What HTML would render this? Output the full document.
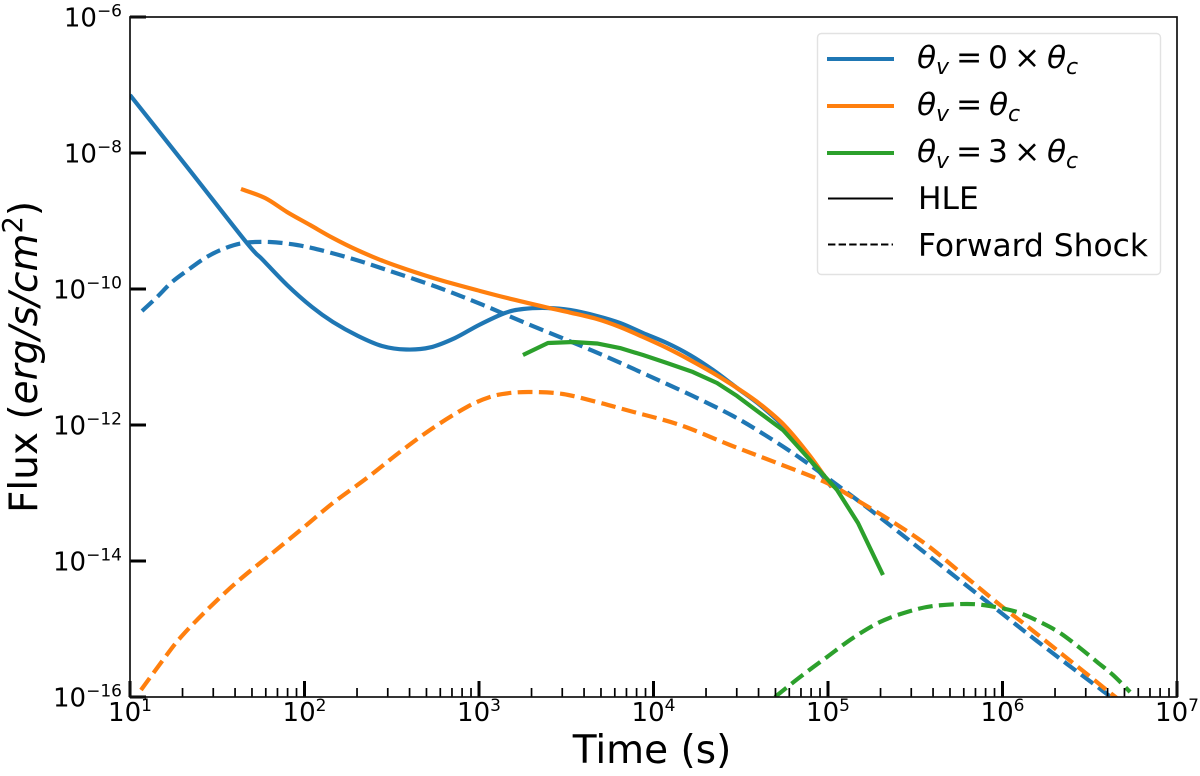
<!DOCTYPE html>
<html>
<head>
<meta charset="utf-8">
<title>Flux vs Time</title>
<style>
html,body{margin:0;padding:0;background:#fff;}
svg{display:block;}
text{font-family:"DejaVu Sans","Liberation Sans",sans-serif;fill:#000;}
.mi{font-style:italic;}
</style>
</head>
<body>
<svg id="chart" xmlns="http://www.w3.org/2000/svg" width="1200" height="776" viewBox="0 0 1200 776">
  <defs><clipPath id="plot-clip"><rect x="130" y="17" width="1047" height="680"/></clipPath></defs>
  <rect x="0" y="0" width="1200" height="776" fill="#fff"/>
  <g id="series" clip-path="url(#plot-clip)"></g>
  <g id="axes"></g>
  <rect x="130" y="17" width="1047" height="680" fill="none" stroke="#111" stroke-width="1.7"/>
  <text x="652" y="763" font-size="39" text-anchor="middle">Time (s)</text>
  <text transform="translate(37,357) rotate(-90)" font-size="39" text-anchor="middle">Flux (<tspan class="mi">erg/s/cm</tspan><tspan font-size="27.3" dy="-15">2</tspan><tspan dy="15">)</tspan></text>

  <g>
    <rect x="817.5" y="33.5" width="343" height="241" rx="4" fill="#fff" fill-opacity="0.8" stroke="#e2e2e2" stroke-width="1.4"/>
    <g>
      <line x1="827" x2="894" y1="59" y2="59" stroke="#1f77b4" stroke-width="4"/>
      <text y="68" font-size="31.3"><tspan class="mi" x="917">θ</tspan><tspan class="mi" x="936" y="74" font-size="22">v</tspan><tspan x="956" y="68">=</tspan><tspan x="988">0</tspan><tspan x="1014">×</tspan><tspan class="mi" x="1047">θ</tspan><tspan class="mi" x="1066" y="74" font-size="22">c</tspan></text>
    </g>
    <g>
      <line x1="827" x2="894" y1="106" y2="106" stroke="#ff7f0e" stroke-width="4"/>
      <text y="115" font-size="31.3"><tspan class="mi" x="917">θ</tspan><tspan class="mi" x="936" y="121" font-size="22">v</tspan><tspan x="956" y="115">=</tspan><tspan class="mi" x="989">θ</tspan><tspan class="mi" x="1008" y="121" font-size="22">c</tspan></text>
    </g>
    <g>
      <line x1="827" x2="894" y1="153" y2="153" stroke="#2ca02c" stroke-width="4"/>
      <text y="162" font-size="31.3"><tspan class="mi" x="917">θ</tspan><tspan class="mi" x="936" y="168" font-size="22">v</tspan><tspan x="956" y="162">=</tspan><tspan x="988">3</tspan><tspan x="1014">×</tspan><tspan class="mi" x="1047">θ</tspan><tspan class="mi" x="1066" y="168" font-size="22">c</tspan></text>
    </g>
    <g>
      <line x1="828" x2="893" y1="198.5" y2="198.5" stroke="#000" stroke-width="2"/>
      <text x="918" y="209" font-size="31.3">HLE</text>
    </g>
    <g>
      <line x1="828" x2="893" y1="244.5" y2="244.5" stroke="#000" stroke-width="2" stroke-dasharray="7.4 3.2"/>
      <text x="918" y="256" font-size="31.3">Forward Shock</text>
    </g>
  </g>
</svg>
<script>
// Tick exponents
const xTickExponents = [1, 2, 3, 4, 5, 6, 7];
const yTickExponents = [-6, -8, -10, -12, -14, -16];
const minorMultipliers = [2, 3, 4, 5, 6, 7, 8, 9];

// Series values: log10(time [s]) and log10(flux [erg/s/cm^2])
const blueHleLogTime = [1.000,1.332,1.670,1.762,1.900,2.043,2.163,2.307,2.444,2.582,2.719,2.862,3.000,3.149,3.252,3.390,3.521,3.676,3.808,3.940,4.077,4.209,4.341,4.479,4.610,4.754,4.897,5.020];
const blueHleLogFlux = [-7.147,-8.221,-9.324,-9.574,-9.941,-10.265,-10.485,-10.691,-10.838,-10.890,-10.860,-10.721,-10.529,-10.353,-10.294,-10.279,-10.309,-10.397,-10.500,-10.647,-10.794,-10.971,-11.191,-11.456,-11.706,-12.044,-12.515,-12.910];
const blueShockLogTime = [1.069,1.155,1.241,1.332,1.430,1.533,1.648,1.802,1.957,2.089,2.278,2.473,2.759,3.023,3.252,3.504,3.734,3.963,4.226,4.456,4.639,4.840,5.052,5.258,5.441,5.739,5.986,6.175,6.370,6.576,6.650];
const blueShockLogFlux = [-10.324,-10.118,-9.897,-9.721,-9.544,-9.412,-9.324,-9.309,-9.353,-9.426,-9.559,-9.721,-9.971,-10.235,-10.485,-10.750,-11.000,-11.265,-11.574,-11.868,-12.147,-12.485,-12.882,-13.279,-13.647,-14.250,-14.750,-15.132,-15.515,-15.912,-16.059];
const orangeHleLogTime = [1.636,1.774,1.900,2.032,2.163,2.301,2.450,2.587,2.777,3.006,3.195,3.390,3.521,3.676,3.808,3.940,4.077,4.209,4.341,4.479,4.610,4.754,4.897,5.023];
const orangeHleLogFlux = [-8.529,-8.662,-8.868,-9.059,-9.250,-9.426,-9.588,-9.713,-9.868,-10.029,-10.154,-10.272,-10.346,-10.441,-10.559,-10.706,-10.868,-11.044,-11.235,-11.456,-11.691,-12.015,-12.456,-12.912];
const orangeShockLogTime = [1.063,1.189,1.287,1.441,1.613,1.802,1.991,2.163,2.358,2.547,2.736,2.931,3.063,3.178,3.309,3.481,3.676,3.865,4.152,4.438,4.708,4.994,5.183,5.372,5.567,5.756,5.986,6.140,6.347,6.519,6.633,6.685];
const orangeShockLogFlux = [-15.897,-15.456,-15.132,-14.721,-14.309,-13.912,-13.515,-13.147,-12.779,-12.397,-12.044,-11.735,-11.588,-11.529,-11.515,-11.544,-11.662,-11.794,-12.000,-12.294,-12.559,-12.853,-13.132,-13.426,-13.765,-14.162,-14.647,-14.956,-15.382,-15.735,-15.971,-16.074];
const greenHleLogTime = [3.252,3.395,3.539,3.676,3.808,3.940,4.077,4.226,4.364,4.479,4.610,4.742,4.897,5.052,5.172,5.315];
const greenHleLogFlux = [-10.971,-10.794,-10.779,-10.801,-10.868,-10.971,-11.088,-11.221,-11.382,-11.574,-11.824,-12.074,-12.515,-12.956,-13.441,-14.206];
const greenShockLogTime = [4.696,4.840,4.994,5.143,5.298,5.453,5.602,5.797,5.928,6.083,6.215,6.330,6.444,6.542,6.633,6.731];
const greenShockLogFlux = [-16.000,-15.706,-15.412,-15.132,-14.897,-14.750,-14.662,-14.632,-14.662,-14.750,-14.897,-15.059,-15.279,-15.485,-15.676,-15.926];

const NS = 'http://www.w3.org/2000/svg';
const PLOT = { left: 130, right: 1177, top: 17, bottom: 697 };
const X_DOMAIN = [1, 7];
const Y_DOMAIN = [-16, -6];

function xScale(logTime) {
  return PLOT.left + (logTime - X_DOMAIN[0]) / (X_DOMAIN[1] - X_DOMAIN[0]) * (PLOT.right - PLOT.left);
}
function yScale(logFlux) {
  return PLOT.bottom - (logFlux - Y_DOMAIN[0]) / (Y_DOMAIN[1] - Y_DOMAIN[0]) * (PLOT.bottom - PLOT.top);
}

const seriesGroup = document.getElementById('series');
const axesGroup = document.getElementById('axes');

// Builds a path through the points; smooth mode uses Catmull-Rom segments
function buildPath(times, fluxes, smooth) {
  const pts = times.map((t, i) => [xScale(t), yScale(fluxes[i])]);
  let d = 'M' + pts[0][0].toFixed(2) + ' ' + pts[0][1].toFixed(2);
  for (let i = 1; i < pts.length; i++) {
    if (!smooth) {
      d += ' L' + pts[i][0].toFixed(2) + ' ' + pts[i][1].toFixed(2);
      continue;
    }
    const p0 = pts[Math.max(i - 2, 0)];
    const p1 = pts[i - 1];
    const p2 = pts[i];
    const p3 = pts[Math.min(i + 1, pts.length - 1)];
    const c1x = p1[0] + (p2[0] - p0[0]) / 6;
    const c1y = p1[1] + (p2[1] - p0[1]) / 6;
    const c2x = p2[0] - (p3[0] - p1[0]) / 6;
    const c2y = p2[1] - (p3[1] - p1[1]) / 6;
    d += ' C' + c1x.toFixed(2) + ' ' + c1y.toFixed(2) + ' ' + c2x.toFixed(2) + ' ' + c2y.toFixed(2) + ' ' + p2[0].toFixed(2) + ' ' + p2[1].toFixed(2);
  }
  return d;
}

function drawSeries(name, times, fluxes, color, dashed, smooth) {
  const path = document.createElementNS(NS, 'path');
  
  
  path.setAttribute('d', buildPath(times, fluxes, smooth));
  path.setAttribute('fill', 'none');
  path.setAttribute('stroke', color);
  path.setAttribute('stroke-width', '4.2');
  path.setAttribute('stroke-linejoin', 'round');
  if (dashed) path.setAttribute('stroke-dasharray', '14.8 6.4');
  seriesGroup.appendChild(path);
}

drawSeries('series-on-axis-hle', blueHleLogTime, blueHleLogFlux, '#1f77b4', false, true);
drawSeries('series-on-axis-forward-shock', blueShockLogTime, blueShockLogFlux, '#1f77b4', true, true);
drawSeries('series-core-angle-hle', orangeHleLogTime, orangeHleLogFlux, '#ff7f0e', false, true);
drawSeries('series-core-angle-forward-shock', orangeShockLogTime, orangeShockLogFlux, '#ff7f0e', true, true);
drawSeries('series-three-core-angle-hle', greenHleLogTime, greenHleLogFlux, '#2ca02c', false, false);
drawSeries('series-three-core-angle-forward-shock', greenShockLogTime, greenShockLogFlux, '#2ca02c', true, true);

function drawTick(name, x1, y1, x2, y2, width) {
  const line = document.createElementNS(NS, 'line');
  
  
  line.setAttribute('x1', x1);
  line.setAttribute('y1', y1);
  line.setAttribute('x2', x2);
  line.setAttribute('y2', y2);
  line.setAttribute('stroke', '#000');
  line.setAttribute('stroke-width', width);
  axesGroup.appendChild(line);
}

function drawPowerLabel(name, x, y, anchor, exponent) {
  const text = document.createElementNS(NS, 'text');
  
  
  text.setAttribute('x', x);
  text.setAttribute('y', y);
  text.setAttribute('font-size', '26');
  text.setAttribute('text-anchor', anchor);
  const base = document.createElementNS(NS, 'tspan');
  base.textContent = '10';
  const sup = document.createElementNS(NS, 'tspan');
  sup.setAttribute('font-size', '17');
  sup.setAttribute('dy', '-10');
  sup.textContent = String(exponent).replace('-', '\u2212');
  text.appendChild(base);
  text.appendChild(sup);
  axesGroup.appendChild(text);
}

xTickExponents.forEach((e) => {
  const x = xScale(e);
  drawTick('x-major-tick', x, PLOT.bottom, x, PLOT.bottom - 16, 3);
  drawPowerLabel('x-tick-label', x, 721, 'middle', e);
  if (e < X_DOMAIN[1]) {
    minorMultipliers.forEach((m) => {
      const mx = xScale(e + Math.log10(m));
      drawTick('x-minor-tick', mx, PLOT.bottom, mx, PLOT.bottom - 9, 1.7);
    });
  }
});

yTickExponents.forEach((e) => {
  const y = yScale(e);
  drawTick('y-major-tick', PLOT.left, y, PLOT.left + 16, y, 3);
  drawPowerLabel('y-tick-label', 122, y + 9.5, 'end', e);
});
</script>
</body>
</html>
